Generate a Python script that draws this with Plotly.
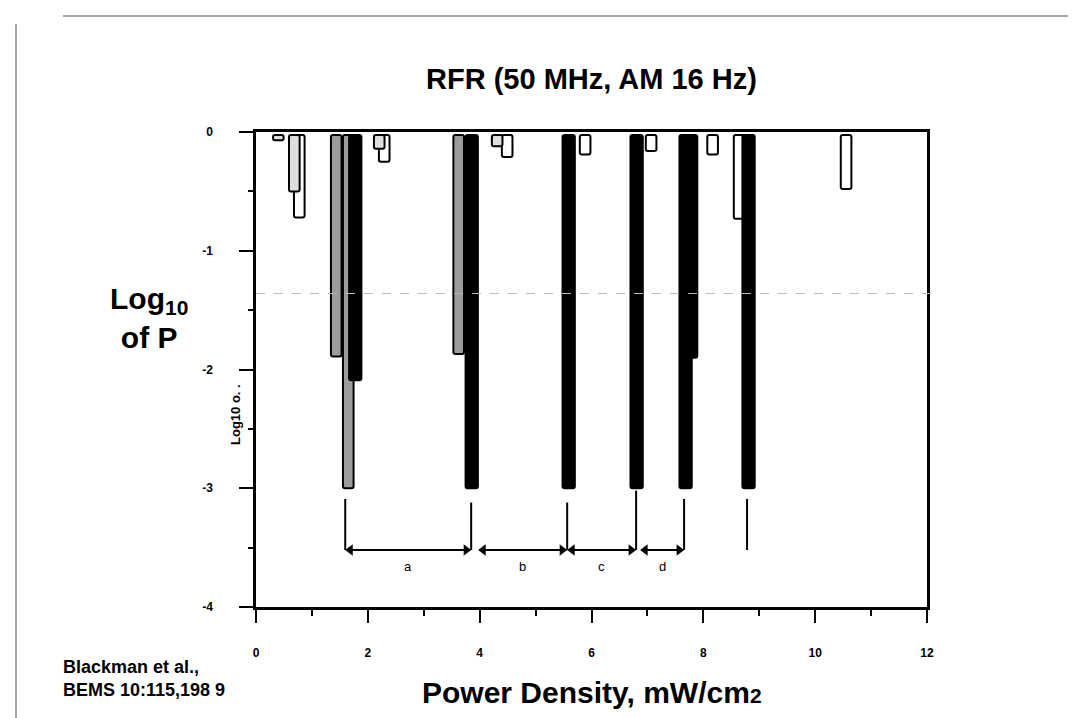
import plotly.graph_objects as go

# ---------------- data ----------------
WHITE_X = [0.774, 2.293, 4.492, 5.886, 7.066, 8.166, 8.640, 10.553]
WHITE_P = [-0.72, -0.25, -0.21, -0.19, -0.16, -0.19, -0.73, -0.48]

LIGHT_X = [0.399, 0.685, 2.204, 4.313]
LIGHT_P = [-0.07, -0.50, -0.14, -0.12]

GRAY_X = [1.435, 1.650, 3.625]
GRAY_P = [-1.89, -3.00, -1.87]

BLACK_X = [1.775, 3.858, 5.592, 6.807, 7.683, 7.782, 8.809]
BLACK_P = [-2.09, -3.00, -3.00, -3.00, -3.00, -1.90, -3.00]

BAR_BASE = -0.025
P05_LOG = -1.36

X_TICKS = [0, 2, 4, 6, 8, 10, 12]
Y_TICKS = [0, -1, -2, -3, -4]

BRACKET_X = [1.596, 3.848, 5.565, 6.798, 7.656, 8.782]
BRACKET_TOP = [-3.09, -3.12, -3.12, -3.02, -3.09, -3.09]
BRACKET_BOTTOM = -3.52
ARROW_FROM = [1.596, 3.973, 5.565, 6.870]
ARROW_TO = [3.848, 5.565, 6.798, 7.656]
ARROW_LABELS = ["a", "b", "c", "d"]
LABEL_Y = -3.66

FONT = "Arial, Liberation Sans, sans-serif"

# ---------------- layout geometry ----------------
W, H = 1076, 718
L, R, T, B = 248, 157, 124, 119
PW, PH = W - L - R, H - T - B
HEAD = 10  # arrow head size in px
HEAD_INSET = (HEAD / 2) * 12 / PW  # half head, in x data units


def px(x):
    return (x - L) / PW


def py(y):
    return (H - B - y) / PH


fig = go.Figure()


def add_bars(xs, vals, color, width):
    fig.add_trace(go.Bar(
        x=xs,
        y=[v - BAR_BASE for v in vals],
        base=BAR_BASE,
        width=width,
        marker=dict(color=color, line=dict(color="black", width=2), cornerradius=2),
        showlegend=False,
        hoverinfo="skip",
    ))


add_bars(WHITE_X, WHITE_P, "white", 0.19)
add_bars(LIGHT_X, LIGHT_P, "#dedede", 0.19)
add_bars(GRAY_X, GRAY_P, "#9c9c9c", 0.19)
add_bars(BLACK_X, BLACK_P, "black", 0.22)

shapes = []
# significance (dashed) line
shapes.append(dict(type="line", xref="paper", yref="y", x0=0, x1=1.01,
                   y0=P05_LOG, y1=P05_LOG,
                   line=dict(color="#b8b8b8", width=1, dash="dash")))
# bracket vertical lines
for bx, bt in zip(BRACKET_X, BRACKET_TOP):
    shapes.append(dict(type="line", xref="x", yref="y", x0=bx, x1=bx,
                       y0=bt, y1=BRACKET_BOTTOM,
                       line=dict(color="black", width=2)))
# horizontal arrow shafts
for a0, a1 in zip(ARROW_FROM, ARROW_TO):
    shapes.append(dict(type="line", xref="x", yref="y", x0=a0 + HEAD_INSET,
                       x1=a1 - HEAD_INSET, y0=BRACKET_BOTTOM, y1=BRACKET_BOTTOM,
                       line=dict(color="black", width=2)))
# outer frame of the slide
frame = dict(color="#8a8a8a", width=1.5)
shapes.append(dict(type="line", xref="paper", yref="paper",
                   x0=px(8), x1=px(8), y0=py(16), y1=py(718), line=frame))
shapes.append(dict(type="line", xref="paper", yref="paper",
                   x0=px(55), x1=px(1068), y0=py(8), y1=py(8), line=frame))
shapes.append(dict(type="line", xref="paper", yref="paper",
                   x0=px(1067), x1=px(1067), y0=py(8), y1=py(718), line=frame))

# arrow heads
head_x, head_sym = [], []
for a0, a1 in zip(ARROW_FROM, ARROW_TO):
    head_x += [a0 + HEAD_INSET, a1 - HEAD_INSET]
    head_sym += ["triangle-left", "triangle-right"]
fig.add_trace(go.Scatter(
    x=head_x, y=[BRACKET_BOTTOM] * len(head_x), mode="markers",
    marker=dict(symbol=head_sym, size=HEAD, color="black", line=dict(width=0)),
    showlegend=False, hoverinfo="skip",
))

annotations = []
for a0, a1, lab in zip(ARROW_FROM, ARROW_TO, ARROW_LABELS):
    annotations.append(dict(x=(a0 + a1) / 2, y=LABEL_Y, xref="x", yref="y",
                            xanchor="center", yanchor="middle",
                            text=lab, showarrow=False,
                            font=dict(family=FONT, size=13, color="black")))


def text_at(x, y, text, size, **kw):
    d = dict(x=px(x), y=py(y), xref="paper", yref="paper", text=text,
             showarrow=False, xanchor="center", yanchor="middle",
             font=dict(family=FONT, size=size, color="black"))
    d.update(kw)
    annotations.append(d)


# title
text_at((L + W - R) / 2, 71, "<b>RFR (50 MHz, AM 16 Hz)</b>", 29)
# x title
text_at((L + W - R) / 2, 684,
        "<b>Power Density, mW/cm<span style='font-size:21px'>2</span></b>", 30)
# big y label
text_at(141, 310, "<b>Log<sub>10</sub><br>of P</b>", 30, align="center")
# small rotated y label
text_at(227, 407, "<b>Log10 o. .</b>", 13, textangle=-90)
# citation
text_at(53, 670, "<b>Blackman et al.,<br>BEMS 10:115,198 9</b>", 18,
        xanchor="left", align="left")

fig.update_layout(
    width=W, height=H,
    margin=dict(l=L, r=R, t=T, b=B, autoexpand=False),
    paper_bgcolor="white", plot_bgcolor="white",
    barmode="overlay",
    shapes=shapes,
    annotations=annotations,
    font=dict(family=FONT, color="black"),
)

fig.update_xaxes(
    range=[0, 12], tickvals=X_TICKS, ticktext=[f"<b>{t}</b>" for t in X_TICKS],
    showgrid=False, zeroline=False,
    showline=True, linecolor="black", linewidth=2.5, mirror=True,
    ticks="outside", ticklen=13, tickwidth=2, tickcolor="black",
    ticklabelstandoff=20,
    minor=dict(dtick=1, ticks="outside", ticklen=6, tickwidth=2, tickcolor="black"),
    tickfont=dict(family=FONT, size=12, color="black"),
)
fig.update_yaxes(
    range=[-4, 0], tickvals=Y_TICKS, ticktext=[f"<b>{t}</b>" for t in Y_TICKS],
    showgrid=False, zeroline=False,
    showline=True, linecolor="black", linewidth=2.5, mirror=True,
    ticks="outside", ticklen=14, tickwidth=2, tickcolor="black",
    ticklabelstandoff=24,
    minor=dict(dtick=0.5, ticks="outside", ticklen=5, tickwidth=2, tickcolor="black"),
    tickfont=dict(family=FONT, size=12, color="black"),
)

fig.write_html("out.html")
